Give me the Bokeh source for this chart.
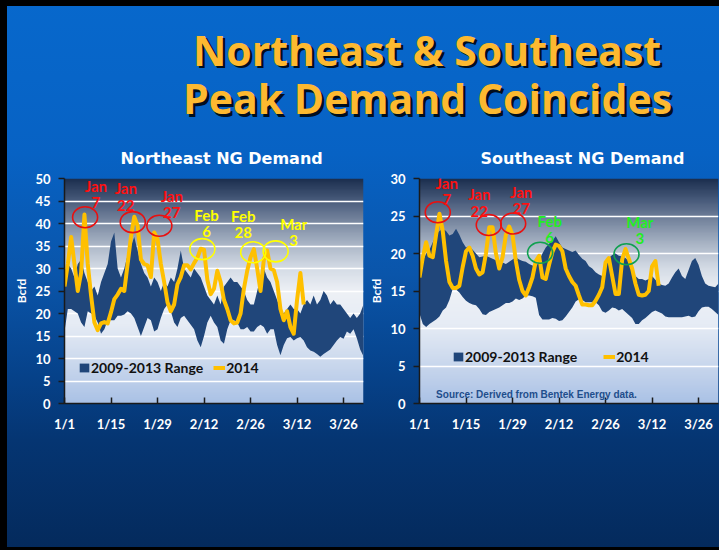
import numpy as np
from bokeh.plotting import figure
from bokeh.models import Range1d, FixedTicker, Legend, LegendItem, Label
from bokeh.layouts import column, row
from bokeh.embed import file_html
from bokeh.resources import INLINE
from bokeh.core.properties import value

# ---------------- data ----------------
MAIN_TITLE = ["Northeast & Southeast", "Peak Demand Coincides"]
NE_TITLE = "Northeast NG Demand"
SE_TITLE = "Southeast NG Demand"
Y_LABEL = "Bcfd"
RANGE_LABEL = "2009-2013 Range"
LINE_LABEL = "2014"
SOURCE = "Source: Derived from Bentek Energy data."

TICK_DAYS = [0, 14, 28, 42, 56, 70, 84]
TICK_LABELS = ["1/1", "1/15", "1/29", "2/12", "2/26", "3/12", "3/26"]
NE_YTICKS = [0, 5, 10, 15, 20, 25, 30, 35, 40, 45, 50]
SE_YTICKS = [0, 5, 10, 15, 20, 25, 30]

DAYS = list(range(91))          # day 0 = Jan 1
DAYS_2014 = list(range(73))     # 2014 data through mid March

NE_UPPER = [26, 31, 30, 28, 31, 32, 29, 27, 25, 26,
            24, 27, 29, 31, 36, 38, 30, 28, 30, 33,
            35, 37, 34, 31, 29, 28, 26, 28, 27, 25,
            27, 26, 28, 27, 30, 34, 30, 29, 28, 30,
            29, 28, 26, 24, 23, 22, 24, 22, 26, 27,
            28, 27, 27, 26, 25, 23, 22, 22, 25, 28,
            30, 28, 27, 25, 23, 21, 20, 21, 22, 21,
            21, 20, 22, 23, 22, 24, 22, 23, 25, 24,
            22, 23, 22, 22, 21, 20, 19, 20, 19, 20, 22]
NE_LOWER = [16, 21, 21, 20.5, 20, 18, 17, 20.5, 20, 19.5,
            18, 15.5, 16.5, 18.5, 18.5, 18.5, 19.5, 19.5, 19.8, 20.5,
            20, 19, 17, 15, 17, 19, 18.5, 16, 16.5, 19,
            21, 22, 20.5, 18, 17, 19, 19.5, 18.5, 17.5, 16.5,
            14, 12.5, 15, 18, 19.5, 18, 17, 14, 13.3, 16.5,
            18.5, 18.5, 18, 16.5, 16.5, 17, 16, 16, 17, 17.5,
            17, 15.5, 16.5, 16.5, 13, 10.7, 13, 14.5, 14.8, 14,
            14.5, 14.8, 14, 12.5, 11.8, 11.5, 11, 10.4, 11, 11.5,
            12, 13, 14, 14.8, 14.4, 16, 15.5, 16.5, 14.5, 12, 10.5]
NE_2014 = [26, 31, 37, 31, 25, 29, 42, 31, 24, 18,
           16.3, 17.8, 18.1, 17.8, 20.3, 23.2, 24.2, 25.5, 25, 31,
           37, 41.5, 39.5, 32, 31, 30.7, 28.1, 38, 36.5, 31,
           27, 22.5, 20.5, 22, 26.5, 28.1, 30.7, 30.7, 29.8, 31.2,
           32.4, 34.4, 34.2, 27.5, 24.3, 25.5, 29.5, 27, 23, 21,
           18.5, 17.8, 18, 20, 25.5, 29.5, 32.5, 34.3, 30, 25,
           32, 34, 30, 29.6, 27, 21, 18.5, 20.5, 17, 15.5,
           23, 29, 22]

SE_UPPER = [18, 19, 20, 20.5, 21.5, 22.5, 23, 23.3, 23, 22.4,
            22.6, 23.3, 22.5, 21.5, 20.8, 21, 20.5, 20, 19.5, 19.6,
            19.7, 19.5, 19.3, 19.1, 19, 18.8, 18.6, 18.9, 19.2, 19.5,
            19.2, 19, 18.9, 18.6, 18.4, 18.2, 19, 20, 20.8, 21.3,
            21.7, 22.3, 21.5, 20.8, 20.6, 20.4, 20.2, 20.4, 19.8, 19.3,
            19, 18.3, 18, 17.5, 17.2, 17, 18, 19.4, 19.8, 20,
            19.7, 19.6, 19.4, 19, 18, 17, 16.6, 16.6, 16.4, 16.6,
            17, 16.5, 16, 15.8, 15.7, 16, 16.8, 17.5, 18, 17,
            16.6, 17.8, 19, 19.4, 18.5, 17, 16, 15.7, 15.6, 15.5, 16]
SE_LOWER = [12, 10.6, 10.2, 10.6, 10.9, 11.2, 11.6, 12.4, 12.8, 13.8,
            15.3, 15.2, 14.8, 14.2, 13.7, 13.4, 13.2, 13.1, 12.6, 11.9,
            11.8, 12.2, 12.4, 12.6, 12.8, 13.1, 13.4, 13.4, 13.6, 14,
            13.8, 14, 14.4, 14.4, 14.3, 14.1, 11.8, 11.2, 11.2, 11.2,
            11.4, 11.3, 11, 11.1, 11.6, 12.2, 12.8, 13.6, 13.9, 13.8,
            13.5, 13.5, 13.5, 13.5, 13.1, 12.3, 12.1, 12.4, 12.8, 12.7,
            12.4, 12.6, 12.2, 11.8, 11.4, 10.6, 10.6, 11.1, 11.4, 11.8,
            12.2, 12.4, 12.2, 12, 11.6, 11.5, 11.5, 11.5, 11.5, 11.5,
            11.6, 11.7, 11.5, 11.6, 12.3, 12.8, 12.9, 12.9, 12.6, 12.2, 11.8]
SE_2014 = [16.8, 19.5, 21.5, 19.7, 19.5, 22.5, 25.3, 23, 19, 16.2,
           15.4, 15.4, 15.7, 18.2, 20.3, 20.8, 19.7, 18, 17.2, 17.5,
           20, 23.5, 23.5, 20, 18, 19.5, 22.5, 23.6, 22.5, 19,
           16.5, 15, 14.4, 15.5, 16.8, 19, 19.7, 16.8, 16.6, 18.5,
           20.2, 21.2, 21, 20.3, 18, 17, 16.2, 15.7, 14.4, 13.2,
           13.2, 13.1, 13.1, 13.7, 14.5, 15.5, 18.8, 19.4, 17, 14.6,
           14.6, 19.2, 20.6, 19.3, 18, 16, 14.5, 14.4, 14.5, 15,
           18.3, 19, 15.7]

# call-outs (text, label anchor, ring centre) in data units
NE_NOTE_TEXT = ["Jan\n7", "Jan\n22", "Jan\n27", "Feb\n6", "Feb\n28", "Mar\n3"]
NE_NOTE_X = [9.45, 18.45, 32.3, 42.75, 53.8, 69.0]
NE_NOTE_Y = [46.5, 46.0, 44.3, 40.2, 39.9, 38.1]
NE_RING_X = [6.2, 20.55, 28.55, 41.5, 56.8, 63.55]
NE_RING_Y = [41.4, 40.3, 39.5, 34.3, 33.6, 33.8]

SE_NOTE_TEXT = ["Jan\n7", "Jan\n22", "Jan\n27", "Feb\n6", "Mar\n3"]
SE_NOTE_X = [8.2, 18.0, 30.6, 39.2, 66.3]
SE_NOTE_Y = [28.3, 26.8, 27.1, 23.3, 23.1]
SE_RING_X = [5.5, 20.85, 28.2, 36.3, 62.3]
SE_RING_Y = [25.5, 23.8, 24.0, 20.1, 19.9]

# ---------------- styles ----------------
RED_TXT, RED_RING = "#ff1010", "#e81010"
YEL_TXT, YEL_RING = "#ffff00", "#ffff00"
GRN_TXT, GRN_RING = "#22ee22", "#10a050"
NE_TXT_COL = [RED_TXT] * 3 + [YEL_TXT] * 3
NE_RING_COL = [RED_RING] * 3 + [YEL_RING] * 3
SE_TXT_COL = [RED_TXT] * 3 + [GRN_TXT] * 2
SE_RING_COL = [RED_RING] * 3 + [GRN_RING] * 2

RANGE_COLOR = "#20467a"
LINE_COLOR = "#ffc000"
TICK_FONT = "Lato"
FRAME_W = 299
FRAME_H = 225
TITLE_H = 135
TOP_B = 43
BOT_B = 550 - TITLE_H - TOP_B - FRAME_H


def frame_gradient(p):
    stops_t = [0.0, 0.15, 0.35, 0.5, 0.6, 0.7, 0.8, 0.9, 1.0]
    stops_c = ["#aac2e6", "#c6d5ec", "#e6ecf5", "#eef1f6", "#d5dce6",
               "#aeb9c9", "#7d8ca4", "#4a5d7d", "#1c2f4f"]
    rgb = np.array([[int(c[i:i + 2], 16) for i in (1, 3, 5)] for c in stops_c])
    n = 256
    t = np.linspace(0, 1, n)
    img = np.empty((n, 1), dtype=np.uint32)
    v = img.view(dtype=np.uint8).reshape((n, 1, 4))
    for k in range(3):
        v[:, 0, k] = np.interp(t, stops_t, rgb[:, k]).astype(np.uint8)
    v[:, 0, 3] = 255
    xr, yr = p.x_range, p.y_range
    p.image_rgba(image=[img], x=xr.start, y=yr.start, dw=xr.end - xr.start,
                 dh=yr.end - yr.start, level="image")


def make_chart(title, upper, lower, line, yticks, left_b, right_b,
               title_off, notes, legend_loc, legend_spacing):
    p = figure(frame_width=FRAME_W, frame_height=FRAME_H,
               min_border_left=left_b, min_border_right=right_b,
               min_border_top=TOP_B, min_border_bottom=BOT_B,
               x_range=Range1d(0, 90), y_range=Range1d(yticks[0], yticks[-1]),
               output_backend="svg", toolbar_location=None,
               background_fill_color=None, border_fill_color=None,
               outline_line_color=None)
    frame_gradient(p)

    p.title.text = title
    p.title.text_color = "white"
    p.title.text_font = "DejaVu Sans"
    p.title.text_font_size = "16px"
    p.title.text_font_style = "bold"
    p.title.align = "left"
    p.title.offset = title_off
    p.title.standoff = 22

    p.xgrid.visible = False
    p.ygrid.grid_line_color = "white"
    p.ygrid.grid_line_width = 1.6

    p.xaxis.ticker = FixedTicker(ticks=TICK_DAYS)
    p.xaxis.major_label_overrides = dict(zip(TICK_DAYS, TICK_LABELS))
    p.yaxis.ticker = FixedTicker(ticks=yticks)
    for ax in (p.xaxis[0], p.yaxis[0]):
        ax.axis_line_color = "#1a1a1a"
        ax.axis_line_width = 1.5
        ax.major_tick_line_color = "#1a1a1a"
        ax.major_tick_line_width = 1.5
        ax.minor_tick_line_color = None
        ax.major_label_text_color = "white"
        ax.major_label_text_font = TICK_FONT
        ax.major_label_text_font_style = "bold"
        ax.major_label_text_font_size = "13px"
    p.xaxis.major_tick_in = 6
    p.xaxis.major_tick_out = 0
    p.xaxis.major_label_standoff = 12
    p.yaxis.major_tick_in = 0
    p.yaxis.major_tick_out = 6
    p.yaxis.major_label_standoff = 8
    p.yaxis.axis_label = Y_LABEL
    p.yaxis.axis_label_text_color = "white"
    p.yaxis.axis_label_text_font = TICK_FONT
    p.yaxis.axis_label_text_font_style = "bold"
    p.yaxis.axis_label_text_font_size = "12px"
    p.yaxis.axis_label_standoff = 3

    r_area = p.varea(x=DAYS, y1=lower, y2=upper, fill_color=RANGE_COLOR)
    r_line = p.line(x=DAYS_2014, y=line, line_color=LINE_COLOR, line_width=4,
                    line_join="round")

    txt, tx, ty, tcol, rx, ry, rcol = notes
    p.ellipse(x=rx, y=ry, width=25, height=21, width_units="screen",
              height_units="screen", fill_color=None, line_color=rcol,
              line_width=1.6)
    p.text(x=tx, y=ty, text=txt, text_color=tcol, text_font=value("Lato"),
           text_font_style="bold", text_font_size="15px", text_align="center",
           text_baseline="middle", text_line_height=0.9)

    leg = Legend(items=[LegendItem(label=RANGE_LABEL, renderers=[r_area]),
                        LegendItem(label=LINE_LABEL, renderers=[r_line])],
                 location=legend_loc, orientation="horizontal",
                 spacing=legend_spacing, padding=0, margin=0,
                 glyph_width=12, glyph_height=11, label_height=14,
                 label_standoff=1, background_fill_alpha=0,
                 border_line_color=None,
                 label_text_font=TICK_FONT, label_text_font_style="bold",
                 label_text_font_size="14px", label_text_color="#111111")
    p.add_layout(leg)
    return p


ne = make_chart(NE_TITLE, NE_UPPER, NE_LOWER, NE_2014, NE_YTICKS, 64, 3, 56,
                (NE_NOTE_TEXT, NE_NOTE_X, NE_NOTE_Y, NE_TXT_COL,
                 NE_RING_X, NE_RING_Y, NE_RING_COL), (14, 27), 10)
se = make_chart(SE_TITLE, SE_UPPER, SE_LOWER, SE_2014, SE_YTICKS, 52, 2, 61,
                (SE_NOTE_TEXT, SE_NOTE_X, SE_NOTE_Y, SE_TXT_COL,
                 SE_RING_X, SE_RING_Y, SE_RING_COL), (33, 38), 26)
se.add_layout(Label(x=5, y=1.2, text=SOURCE, text_color="#1f4e8c",
                    text_font="Liberation Sans", text_font_style="bold",
                    text_font_size="10px", text_baseline="middle"))

# ---------------- slide title ----------------
tfig = figure(title=None, frame_width=719, frame_height=TITLE_H,
              x_range=Range1d(0, 719), y_range=Range1d(0, TITLE_H),
              x_axis_type=None, y_axis_type=None,
              min_border=0, output_backend="svg", toolbar_location=None,
              background_fill_color=None, border_fill_color=None,
              outline_line_color=None)
TX = [426.5, 427]
TY = [TITLE_H - 49, TITLE_H - 97.5]
tfig.text(x=[x + 2.5 for x in TX], y=[y - 2.5 for y in TY], text=MAIN_TITLE,
          text_color="#000000", text_alpha=0.85, text_font=value("Open Sans"),
          text_font_style="bold", text_font_size="41px", text_align="center",
          text_baseline="middle")
tfig.text(x=TX, y=TY, text=MAIN_TITLE, text_color="#fdb930",
          text_font=value("Open Sans"), text_font_style="bold",
          text_font_size="41px", text_align="center",
          text_baseline="middle")

layout = column(tfig, row(ne, se, spacing=0), spacing=0,
                styles={"background": "linear-gradient(180deg, #0768cc 0%, #0762c4 28%, "
                        "#0a55aa 50%, #06428a 68%, #053572 80%, #042a5c 100%)",
                        "box-shadow": "inset 7px 6px 0 0 #000, inset 0 -3px 0 0 #000"})

open("out.html", "w").write(file_html(layout, INLINE))
